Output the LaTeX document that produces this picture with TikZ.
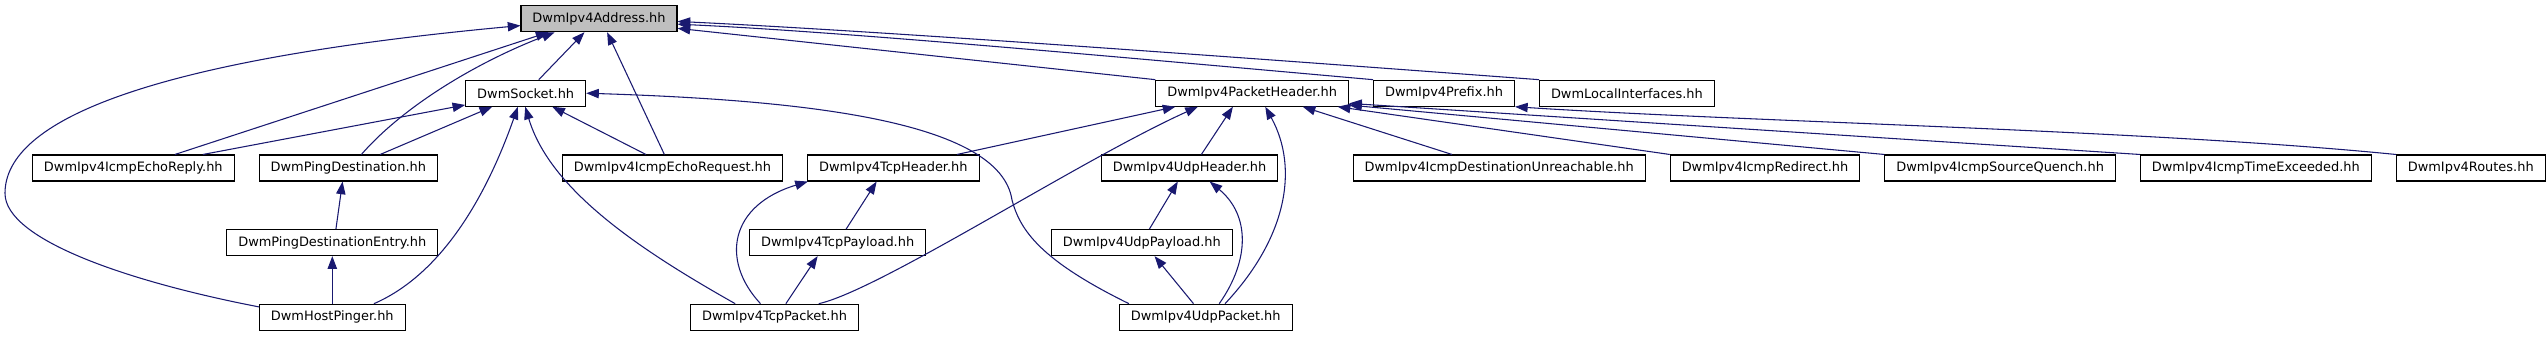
\documentclass[tikz,border=0pt]{standalone}
\usepackage{fontspec}
\setmainfont{DejaVu Sans}
\usepackage{tikz}
\usepackage{xcolor}
\usetikzlibrary{arrows.meta, positioning}
\definecolor{edgeblue}{HTML}{191970}
\definecolor{rootgray}{HTML}{BFBFBF}
\tikzset{
  hdr/.style={draw=black, line width=0.8pt, fill=white, minimum height=19.5pt,
              inner xsep=8.6pt, inner ysep=0pt, font=\fontsize{9.7}{11}\selectfont},
  root/.style={hdr, fill=rootgray},
  dep/.style={-{Triangle[length=9.5pt, width=7pt]}, line width=0.8pt, draw=edgeblue},
}

\begin{document}
\begin{tikzpicture}[x=0.75pt, y=-0.75pt, node distance=18pt]
  \useasboundingbox (0,0) rectangle (2546,336);
  % included header at the top
  \node (addr) [root] at (599,18.7) {DwmIpv4Address.hh};
  % second row
  \node (sock)   [hdr] at (525.7,93.2) {DwmSocket.hh};
  \node (pkthdr) [hdr] at (1252.2,93.2) {DwmIpv4PacketHeader.hh};
  \node (prefix) [hdr, right=of pkthdr] {DwmIpv4Prefix.hh};
  \node (locif)  [hdr, right=of prefix] {DwmLocalInterfaces.hh};
  % third row
  \node (echorep)  [hdr] at (133.3,168) {DwmIpv4IcmpEchoReply.hh};
  \node (pingdest) [hdr, right=of echorep] {DwmPingDestination.hh};
  \node (echoreq)  [hdr] at (672.5,168) {DwmIpv4IcmpEchoRequest.hh};
  \node (tcphdr)   [hdr, right=of echoreq] {DwmIpv4TcpHeader.hh};
  \node (udphdr)   [hdr] at (1189.6,168) {DwmIpv4UdpHeader.hh};
  \node (unreach)  [hdr] at (1499.2,168) {DwmIpv4IcmpDestinationUnreachable.hh};
  \node (redirect) [hdr, right=of unreach] {DwmIpv4IcmpRedirect.hh};
  \node (quench)   [hdr, right=of redirect] {DwmIpv4IcmpSourceQuench.hh};
  \node (timeex)   [hdr, right=of quench] {DwmIpv4IcmpTimeExceeded.hh};
  \node (routes)   [hdr, right=of timeex] {DwmIpv4Routes.hh};
  % fourth row
  \node (pingentry) [hdr] at (332.3,242.6) {DwmPingDestinationEntry.hh};
  \node (tcppay)    [hdr] at (837.7,242.6) {DwmIpv4TcpPayload.hh};
  \node (udppay)    [hdr] at (1141.9,242.6) {DwmIpv4UdpPayload.hh};
  % bottom row
  \node (pinger) [hdr] at (332.3,317.2) {DwmHostPinger.hh};
  \node (tcppkt) [hdr] at (774.5,317.2) {DwmIpv4TcpPacket.hh};
  \node (udppkt) [hdr] at (1205.7,317.2) {DwmIpv4UdpPacket.hh};

  % includes of DwmIpv4Address.hh
  \draw[dep] (pinger.172) .. controls (130,282) and (5,240) .. (5,193.3)
             .. controls (5,120) and (150,60) .. (addr.185);
  \draw[dep] (echorep.18) -- (addr.195);
  \draw[dep] (pingdest.46) .. controls (400,110) and (470,65) .. (addr.197);
  \draw[dep] (sock.46) -- (addr.223);
  \draw[dep] (echoreq.121) -- (addr.301);
  \draw[dep] (pkthdr.north west) -- (addr.353);
  \draw[dep] (prefix.north west) .. controls (1150,60) and (850,32) .. (addr.356);
  \draw[dep] (locif.north west) .. controls (1300,62) and (900,32) .. (addr.358);

  % includes of DwmSocket.hh
  \draw[dep] (echorep.11) -- (sock.191);
  \draw[dep] (pingdest.23) -- (sock.202);
  \draw[dep] (pinger.18) .. controls (440,275) and (485,200) .. (sock.240);
  \draw[dep] (tcppkt.161) .. controls (640,250) and (550,190) .. (sock.268);
  \draw[dep] (echoreq.153) -- (sock.333);
  \draw[dep] (udppkt.170) .. controls (1040,260) and (1020,230) .. (1012,200)
             .. controls (1000,120) and (800,100) .. (sock.east);

  % ping chain
  \draw[dep] (pingentry.75) -- (pingdest.247);
  \draw[dep] (pinger) -- (pingentry);

  % tcp
  \draw[dep] (tcppkt.136) .. controls (720,260) and (730,205) .. (tcphdr.189);
  \draw[dep] (tcppkt.50) -- (tcppay.214);
  \draw[dep] (tcppay.58) -- (tcphdr.219);
  \draw[dep] (tcphdr.12) -- (pkthdr.190);
  \draw[dep] (tcppkt.17) .. controls (880,290) and (1080,160) .. (pkthdr.194);

  % udp
  \draw[dep] (udphdr.49) -- (pkthdr.215);
  \draw[dep] (udppay.61) -- (udphdr.229);
  \draw[dep] (udppkt.132) -- (udppay.313);
  \draw[dep] (udppkt.45) .. controls (1250,260) and (1250,215) .. (udphdr.326);
  \draw[dep] (udppkt.35) .. controls (1285,240) and (1300,170) .. (pkthdr.314);

  % icmp and routes
  \draw[dep] (unreach.164) -- (pkthdr.345);
  \draw[dep] (redirect.north west) -- (pkthdr.351);
  \draw[dep] (quench.north west) -- (pkthdr.353);
  \draw[dep] (timeex.north west) -- (pkthdr.354);
  \draw[dep] (routes.north west) .. controls (2150,130) and (1750,122) .. (prefix.south east);
\end{tikzpicture}
\end{document}
